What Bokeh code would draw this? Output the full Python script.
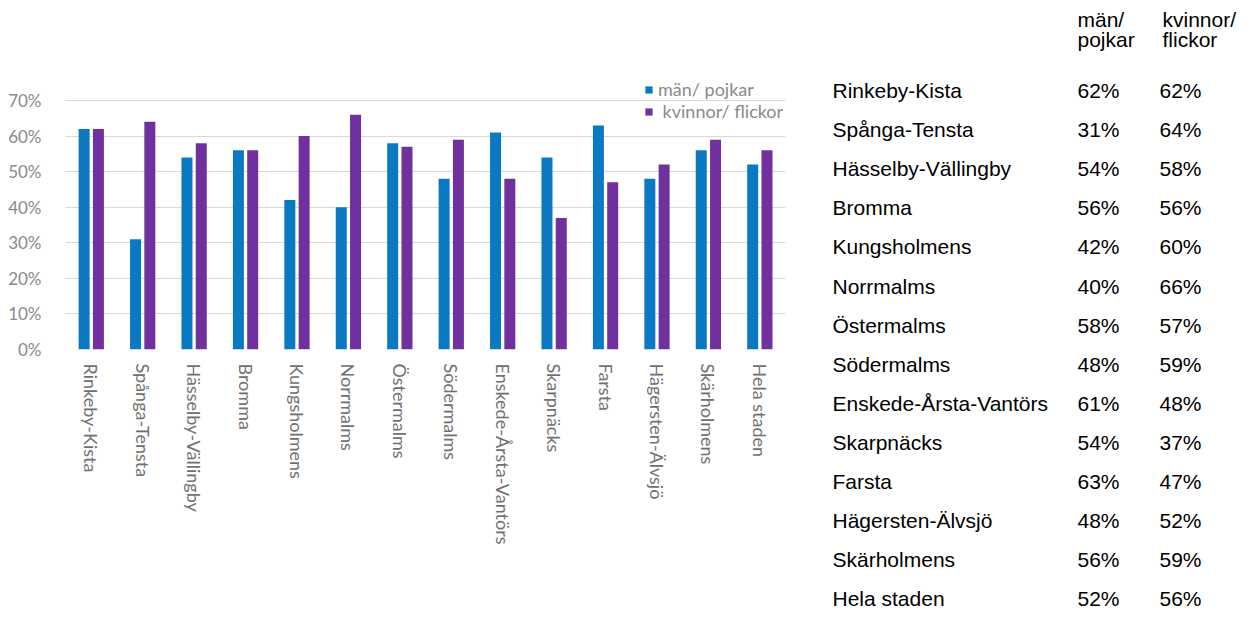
from bokeh.plotting import figure
from bokeh.layouts import row, column
from bokeh.models import (ColumnDataSource, FactorRange, Range1d, FixedTicker,
                          NumeralTickFormatter, Legend, LegendItem)
from bokeh.transform import dodge
from bokeh.core.properties import value
from bokeh.embed import file_html
from bokeh.resources import INLINE

districts = ["Rinkeby-Kista", "Spånga-Tensta", "Hässelby-Vällingby", "Bromma",
             "Kungsholmens", "Norrmalms", "Östermalms", "Södermalms",
             "Enskede-Årsta-Vantörs", "Skarpnäcks", "Farsta", "Hägersten-Älvsjö",
             "Skärholmens", "Hela staden"]
men = [0.62, 0.31, 0.54, 0.56, 0.42, 0.40, 0.58, 0.48, 0.61, 0.54, 0.63, 0.48, 0.56, 0.52]
women = [0.62, 0.64, 0.58, 0.56, 0.60, 0.66, 0.57, 0.59, 0.48, 0.37, 0.47, 0.52, 0.59, 0.56]
series_names = ["män/ pojkar", " kvinnor/ flickor"]
header_men = ["män/", "pojkar"]
header_women = ["kvinnor/", "flickor"]
y_ticks = [0, 0.1, 0.2, 0.3, 0.4, 0.5, 0.6, 0.7]

BLUE = "#0B78C2"
PURPLE = "#70309E"
H = 611
PW = 812
FL, FR, FT, FB = 65, 785, 70, 349   # chart frame edges in px

src = ColumnDataSource(dict(district=districts, men=men, women=women))

p = figure(x_range=FactorRange(*districts, range_padding=0),
           y_range=Range1d(0, 0.7 * (FB - FT) / (FB - 100)),
           width=PW, height=H, output_backend="svg", toolbar_location=None,
           min_border_left=FL, min_border_right=PW - FR, min_border_top=FT,
           min_border_bottom=H - FB)
p.outline_line_color = None
p.background_fill_color = "white"

r1 = p.vbar(x=dodge("district", -0.138, range=p.x_range), top="men", width=0.214,
            source=src, fill_color=BLUE, line_color=None)
r2 = p.vbar(x=dodge("district", 0.140, range=p.x_range), top="women", width=0.214,
            source=src, fill_color=PURPLE, line_color=None)

p.yaxis.ticker = FixedTicker(ticks=y_ticks)
p.yaxis.formatter = NumeralTickFormatter(format="0%")
p.yaxis.axis_line_color = None
p.yaxis.major_tick_line_color = None
p.yaxis.minor_tick_line_color = None
p.yaxis.major_label_standoff = 18
p.yaxis.major_label_text_font = "Lato"
p.yaxis.major_label_text_font_size = "17px"
p.yaxis.major_label_text_color = "#8a8a8a"

p.xaxis.axis_line_color = None
p.xaxis.major_tick_line_color = None
p.xaxis.minor_tick_line_color = None
p.xaxis.major_label_orientation = "vertical"
p.xaxis.major_label_standoff = 8
p.xaxis.major_label_text_font = "Lato"
p.xaxis.major_label_text_font_size = "18px"
p.xaxis.major_label_text_color = "#707070"

p.xgrid.grid_line_color = None
p.ygrid.grid_line_color = "#d9d9d9"
p.ygrid.grid_line_width = 1.2

legend = Legend(items=[LegendItem(label=series_names[0], renderers=[r1]),
                       LegendItem(label=series_names[1], renderers=[r2])],
                location=(579, 227), orientation="vertical",
                background_fill_alpha=0, border_line_color=None,
                padding=0, margin=0, spacing=0,
                glyph_width=9, glyph_height=9, label_height=22, label_standoff=5,
                label_text_font="Lato", label_text_font_size="18px",
                label_text_color="#8a8a8a")
p.add_layout(legend, "center")

# ---- table figure ----
TW = 1237 - PW
ROW, TOP = 39.1, 90.0
tsrc = ColumnDataSource(dict(
    y=list(range(len(districts))), name=districts,
    m=[f"{round(v * 100)}%" for v in men],
    w=[f"{round(v * 100)}%" for v in women]))
hsrc = ColumnDataSource(dict(y=[(19 - TOP) / ROW, (39 - TOP) / ROW],
                             m=header_men, w=header_women))

t = figure(x_range=Range1d(PW, PW + TW), y_range=Range1d((H - TOP) / ROW, -TOP / ROW),
           width=TW, height=H, output_backend="svg", toolbar_location=None,
           min_border=0)
t.axis.visible = False
t.grid.grid_line_color = None
t.outline_line_color = None

style = dict(text_font=value("Liberation Sans"), text_font_size="21px",
             text_color="#000000", text_baseline="middle", text_align="left")
t.text(x=832, y="y", text="name", source=tsrc, **style)
t.text(x=1077, y="y", text="m", source=tsrc, **style)
t.text(x=1159, y="y", text="w", source=tsrc, **style)
t.text(x=1077, y="y", text="m", source=hsrc, **style)
t.text(x=1162, y="y", text="w", source=hsrc, **style)

layout = row(p, column(t, spacing=0), spacing=0)
open("out.html", "w").write(file_html(layout, INLINE))
